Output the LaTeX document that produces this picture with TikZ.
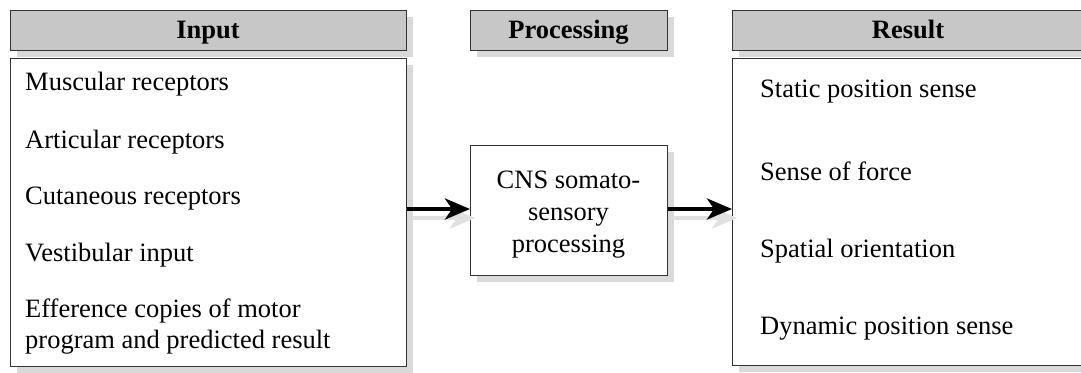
\documentclass[tikz,border=0pt]{standalone}
\usepackage{fontspec}
\setmainfont{Liberation Serif}
\usetikzlibrary{arrows.meta,shadows}
\begin{document}
\begin{tikzpicture}[x=1pt,y=-1pt,
  shadowed/.style={drop shadow={shadow xshift=6pt,shadow yshift=-6pt,fill=black!15,opacity=1}},
  box/.style={draw=black!80,line width=1.3pt,fill=white,shadowed,inner sep=0pt,anchor=north west},
  headbox/.style={box,fill=black!22},
  headtext/.style={anchor=base,inner sep=0pt,font=\fontsize{26.5}{31}\bfseries\selectfont},
  item/.style={anchor=base west,inner sep=0pt,font=\fontsize{26.5}{31}\selectfont,align=left},
  flow/.style={line width=4pt,-{Stealth[length=25pt,width=21pt,inset=7pt]}},
  flowshadow/.style={line width=4pt,draw=black!12,-{Stealth[length=25pt,width=21pt,inset=7pt]}}]
\clip (0,0) rectangle (1081,372);
\fill[white] (0,0) rectangle (1081,372);
% headers
\node[headbox,minimum width=396pt,minimum height=40pt] (inhead) at (10,10) {};
\node[headtext] (intitle) at (208,38) {Input};
\node[headbox,minimum width=197pt,minimum height=40pt] (prochead) at (470,10) {};
\node[headtext] (proctitle) at (568.5,38) {Processing};
\node[headbox,minimum width=370pt,minimum height=40pt] (reshead) at (732,10) {};
\node[headtext] (restitle) at (908,38) {Result};
% bodies
\node[box,minimum width=396pt,minimum height=308pt] (inbody) at (10,58) {};
\node[box,minimum width=197pt,minimum height=130pt] (cns) at (470,145) {};
\node[box,minimum width=370pt,minimum height=307pt] (resbody) at (732,58) {};
% input items
\node[item] (i1) at (25,90) {Muscular receptors};
\node[item] (i2) at (25,148) {Articular receptors};
\node[item] (i3) at (25,204) {Cutaneous receptors};
\node[item] (i4) at (25,261) {Vestibular input};
\node[item] (i5) at (25,348) {Efference copies of motor\\program and predicted result};
% processing text
\node[anchor=base,inner sep=0pt,align=center,font=\fontsize{26.5}{32}\selectfont] (cnstext) at (568.5,252) {CNS somato-\\sensory\\processing};
% result items
\node[item] (r1) at (760,97) {Static position sense};
\node[item] (r2) at (760,180) {Sense of force};
\node[item] (r3) at (760,257) {Spatial orientation};
\node[item] (r4) at (760,334) {Dynamic position sense};
% connectors
\begin{scope}[transform canvas={shift={(5pt,-9pt)}}]
\draw[flowshadow] (inbody.east|-0,209) -- (cns.west|-0,209);
\draw[flowshadow] (cns.east|-0,209) -- (resbody.west|-0,209);
\end{scope}
\draw[flow] (inbody.east|-0,209) -- (cns.west|-0,209);
\draw[flow] (cns.east|-0,209) -- (resbody.west|-0,209);
\end{tikzpicture}
\end{document}
